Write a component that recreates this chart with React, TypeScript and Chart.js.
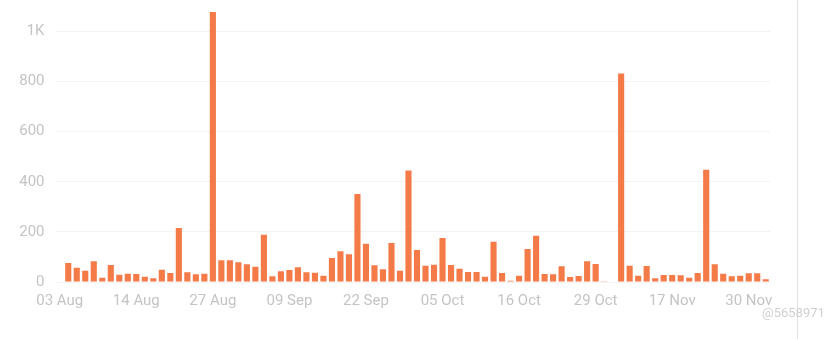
import React, { useEffect, useRef } from "react";
import { Chart, registerables } from "chart.js";

Chart.register(...registerables);

const tickLabels = ["03 Aug", "14 Aug", "27 Aug", "09 Sep", "22 Sep", "05 Oct", "16 Oct", "29 Oct", "17 Nov", "30 Nov"];
const tickEvery = 9;

const values = [
  2, 76, 57, 45, 83, 17, 68, 29, 33, 32,
  21, 15, 49, 36, 216, 39, 31, 33, 1078, 87,
  87, 79, 71, 61, 189, 23, 43, 48, 59, 39,
  37, 25, 96, 123, 111, 351, 153, 67, 51, 156,
  45, 445, 128, 65, 69, 176, 68, 53, 40, 40,
  21, 161, 36, 5, 25, 132, 185, 32, 31, 63,
  20, 24, 83, 72, 1, 2, 832, 65, 25, 64,
  15, 28, 28, 27, 17, 36, 448, 71, 33, 23,
  25, 35, 35, 11,
];

const categories = values.map((_, i) => (i % tickEvery === 0 ? tickLabels[i / tickEvery] ?? "" : ""));

const yTicks = [0, 200, 400, 600, 800, 1000];

export default function App() {
  const ref = useRef<HTMLCanvasElement>(null);
  useEffect(() => {
    document.body.style.margin = "0";
    const ctx = ref.current!;
    const chart = new Chart(ctx, {
      type: "bar",
      data: {
        labels: categories,
        datasets: [
          {
            data: values,
            backgroundColor: "#F47A48",
            borderWidth: 0,
            categoryPercentage: 1,
            barPercentage: 0.72,
          },
        ],
      },
      options: {
        animation: false,
        responsive: false,
        maintainAspectRatio: false,
        layout: { padding: { top: 6.5, right: 61, bottom: 0, left: 0 } },
        plugins: { legend: { display: false }, tooltip: { enabled: false } },
        scales: {
          x: {
            grid: { display: false, drawTicks: false },
            border: { display: false },
            ticks: {
              autoSkip: false,
              maxRotation: 0,
              minRotation: 0,
              color: "#c4c4c4",
              font: { family: "Roboto", size: 15 },
              padding: 10,
            },
            afterFit: (s: any) => {
              s.height = 57;
              s.paddingLeft = 0;
              s.paddingRight = 0;
            },
          },
          y: {
            min: 0,
            max: 1100,
            grid: { color: "#f3f3f3", drawTicks: false, lineWidth: 1 },
            border: { display: false },
            afterBuildTicks: (s: any) => {
              s.ticks = yTicks.map((v) => ({ value: v }));
            },
            ticks: {
              color: "#c4c4c4",
              font: { family: "Roboto", size: 15 },
              padding: 11,
              callback: (v: any) => (Number(v) >= 1000 ? Number(v) / 1000 + "K" : String(v)),
            },
            afterFit: (s: any) => {
              s.width = 55.5;
              s.paddingTop = 0;
              s.paddingBottom = 0;
            },
          },
        },
      },
    });
    return () => chart.destroy();
  }, []);
  return (
    <div style={{ position: "relative", width: 831, height: 339, background: "#fff", overflow: "hidden" }}>
      <canvas ref={ref} width={831} height={339} style={{ position: "absolute", left: 0, top: 0 }} />
      <div style={{ position: "absolute", left: 797, top: 0, width: 1, height: 339, background: "#e2e2e2" }} />
      <div
        style={{
          position: "absolute",
          left: 762,
          top: 305,
          fontFamily: "Roboto",
          fontSize: 13,
          color: "#d0d0d0",
          whiteSpace: "nowrap",
        }}
      >
        @5658971
      </div>
    </div>
  );
}
